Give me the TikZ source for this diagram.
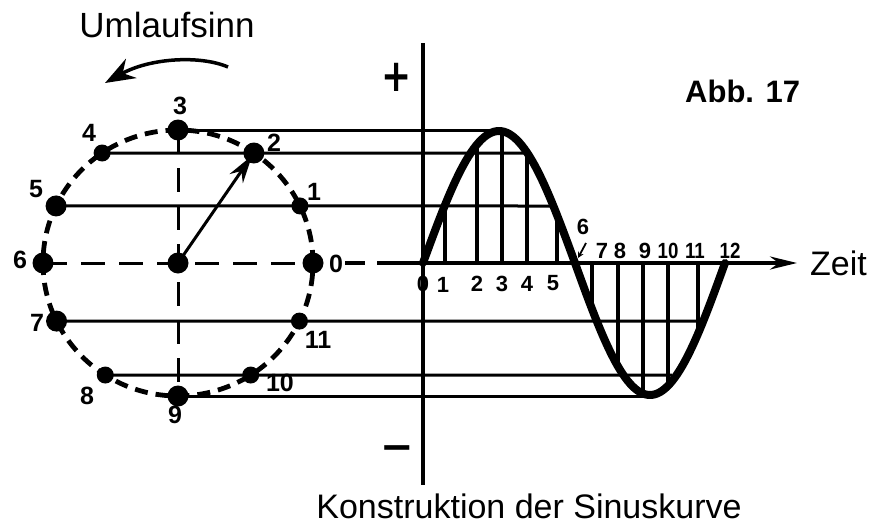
\documentclass[tikz,border=0pt]{standalone}
\usepackage{fontspec}
\setmainfont{Liberation Sans}
\newfontfamily\dejavu{DejaVu Sans}
\usetikzlibrary{arrows.meta}
\begin{document}
\begin{tikzpicture}[x=1pt,y=-1pt,
  dot/.style={circle,fill=black,inner sep=0pt,minimum size=21pt},
  sdot/.style={circle,fill=black,inner sep=0pt,minimum size=17pt},
  circdash/.style={line width=4.8pt,dash pattern=on 13pt off 8pt},
  cdash/.style={line width=3pt,dash pattern=on 24pt off 14pt},
  hline/.style={line width=3pt},
  hatch/.style={line width=3.2pt},
  curve/.style={line width=8pt,line join=round,line cap=round},
  axis/.style={line width=3.5pt},
  num/.style={font=\bfseries\fontsize{25}{25}\selectfont,inner sep=0pt},
  snum/.style={font=\bfseries\fontsize{22}{22}\selectfont,inner sep=0pt},
  big/.style={font=\fontsize{34}{34}\selectfont,inner sep=0pt}]
\useasboundingbox (0,0) rectangle (876,525);

% circle points
\coordinate (ctr) at (178,263);
\foreach \i/\a in {0/0,1/25.4,2/55.8,3/90,4/124.2,5/154.6,6/180,7/205.9,8/237.4,9/270,10/302.6,11/334.1}
  \coordinate (c\i) at ({178+135*cos(\a)},{263-133*sin(\a)});

\draw[circdash] (ctr) ellipse [x radius=135pt, y radius=133pt];
\draw[cdash] (c3) -- (c9);
\draw[cdash] (c6) -- (c0);

% axes
\coordinate (xa) at (345,263);
\coordinate (xb) at (365,263);
\coordinate (xc) at (377,263);
\coordinate (xe) at (797,263);
\coordinate (yt) at (423,43);
\coordinate (yb) at (423,485);
\draw[axis] (xa) -- (xb);
\draw[axis,-{Stealth[length=27pt,width=13pt]}] (xc) -- (xe);
\draw[axis,line width=4pt] (yt) -- (yb);

% projection lines
\coordinate (e3) at (500,130);
\coordinate (e2) at (524,153);
\coordinate (e1) at (551,206);
\coordinate (e11) at (699,321);
\coordinate (e10) at (672,375);
\coordinate (e9) at (647,396);
\draw[hline] (c3) -- (e3);
\draw[hline] (c4) -- (e2);
\draw[hline] (c5) -- (e1);
\draw[hline] (c7) -- (e11);
\draw[hline] (c8) -- (e10);
\draw[hline] (c9) -- (e9);

% hatching
\begin{scope}
\clip plot[domain=0:180,samples=61] ({423+0.844444*\x},{263-132*sin(\x)})
  -- plot[domain=180:360,samples=61] ({575+0.833333*(\x-180)},{263-132*sin(\x)}) -- cycle;
\foreach \h in {445,477,502,527,557,592,618,643,668,698}
  \draw[hatch] (\h,100) -- (\h,420);
\end{scope}

% sine curve
\draw[curve] plot[domain=0:180,samples=61] ({423+0.844444*\x},{263-132*sin(\x)})
  -- plot[domain=180:360,samples=61] ({575+0.833333*(\x-180)},{263-132*sin(\x)});

% dots
\foreach \i in {0,2,3,5,6,7,9} \node[dot] (p\i) at (c\i) {};
\foreach \i in {1,4,8,10,11} \node[sdot] (p\i) at (c\i) {};
\node[dot] (pc) at (ctr) {};
\draw[line width=3pt,-{Stealth[length=28pt,width=16pt]},shorten >=3pt] (pc.center) -- (p2.center);

% circle labels
\node[num] (l0) at (336,264) {0};
\node[num] (l1) at (314,192) {1};
\node[num] (l2) at (274,143) {2};
\node[num] (l3) at (180,106) {3};
\node[num] (l4) at (89,133) {4};
\node[num] (l5) at (36,189) {5};
\node[num] (l6) at (20,260) {6};
\node[num] (l7) at (37,323) {7};
\node[num] (l8) at (87,396) {8};
\node[num] (l9) at (175,415) {9};
\node[num] (l10) at (280,383) {10};
\node[num] (l11) at (318,340) {11};

% axis labels
\node[snum] (s0) at (423,284) {0};
\node[snum] (s1) at (443,285) {1};
\node[snum] (s2) at (477,284) {2};
\node[snum] (s3) at (502,284) {3};
\node[snum] (s4) at (527,284) {4};
\node[snum] (s5) at (553,283) {5};
\node[snum] (s6) at (583,227) {6};
\node[snum] (s7) at (602,251) {7};
\node[snum] (s8) at (620,251) {8};
\node[snum] (s9) at (645,251) {9};
\node[snum,xscale=0.85] (s10) at (668,251) {10};
\node[snum,xscale=0.85] (s11) at (695,251) {11};
\node[snum,xscale=0.85] (s12) at (730,251) {12};
\coordinate (m1) at (586,243);
\coordinate (m2) at (578,258);
\draw[line width=1.8pt,-{Stealth[length=6pt,width=6pt]}] (m1) -- (m2);

% signs
\node[font=\dejavu\bfseries\fontsize{36}{36}\selectfont,inner sep=0pt,yscale=1.25] (plus) at (397,77) {+};
\node[font=\dejavu\bfseries\fontsize{40}{40}\selectfont,inner sep=0pt] (minus) at (397,453) {−};

% texts
\node[big,anchor=base,font=\fontsize{35}{35}\selectfont] (uml) at (167,37) {Umlaufsinn};
\node[big,anchor=base west] (zeit) at (810,275) {Zeit};
\node[anchor=base west,inner sep=0pt,font=\bfseries\fontsize{31}{31}\selectfont] (abb) at (685,102) {Abb. 17};
\node[big,anchor=base] (title) at (529,518) {Konstruktion der Sinuskurve};

% rotation arrow
\coordinate (ua) at (228,67);
\coordinate (ub) at (105,83);
\draw[line width=3.5pt,-{Stealth[length=30pt,width=22pt]}] (ua) .. controls (200,55) and (150,58) .. (ub);
\end{tikzpicture}
\end{document}
